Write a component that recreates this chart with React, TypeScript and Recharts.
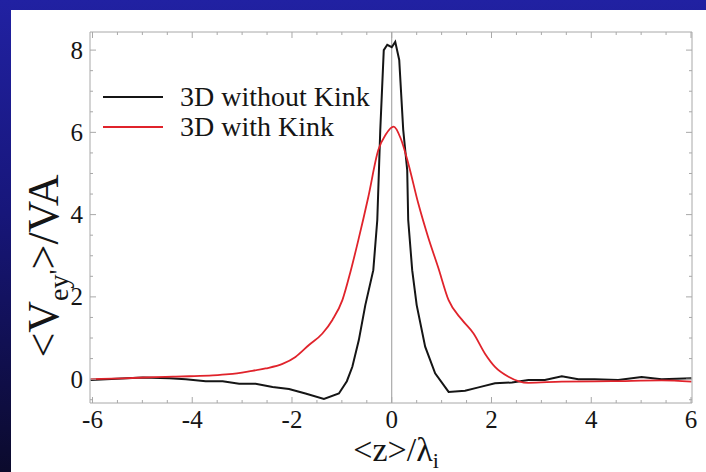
import React from 'react';
import { LineChart, Line, XAxis, YAxis, ReferenceLine, Label } from 'recharts';

// Series: 3D without Kink (black)
const xNoKink = [-6.04, -4.99, -4.46, -4.13, -3.73, -3.39, -3.06, -2.73, -2.39, -2.06, -1.73, -1.36, -1.06, -0.9, -0.79, -0.66, -0.53, -0.37, -0.29, -0.23, -0.16, -0.09, 0.0, 0.07, 0.15, 0.23, 0.31, 0.33, 0.41, 0.5, 0.67, 0.87, 1.14, 1.47, 1.74, 2.07, 2.41, 2.74, 3.07, 3.41, 3.74, 4.07, 4.54, 5.01, 5.41, 6.01];
const yNoKink = [-0.02, 0.04, 0.02, 0.0, -0.05, -0.05, -0.11, -0.11, -0.19, -0.24, -0.35, -0.48, -0.35, -0.05, 0.3, 0.95, 1.8, 2.65, 3.87, 6.06, 8.0, 8.13, 8.07, 8.2, 7.76, 6.06, 5.08, 3.87, 2.65, 1.8, 0.79, 0.14, -0.31, -0.28, -0.2, -0.1, -0.08, -0.02, -0.02, 0.07, 0.0, 0.0, -0.02, 0.05, 0.0, 0.02];

// Series: 3D with Kink (red)
const xKink = [-6.04, -5.39, -4.73, -4.39, -4.06, -3.59, -3.26, -2.86, -2.53, -2.19, -1.93, -1.66, -1.39, -1.19, -0.99, -0.83, -0.67, -0.47, -0.27, -0.12, 0.04, 0.18, 0.33, 0.53, 0.73, 0.93, 1.14, 1.41, 1.64, 1.87, 2.07, 2.34, 2.74, 3.41, 4.41, 5.41, 6.01];
const yKink = [0.0, 0.02, 0.05, 0.06, 0.07, 0.09, 0.12, 0.19, 0.26, 0.37, 0.54, 0.83, 1.11, 1.44, 1.92, 2.6, 3.38, 4.43, 5.57, 5.95, 6.14, 5.85, 5.25, 4.28, 3.45, 2.72, 1.92, 1.44, 1.11, 0.62, 0.3, 0.06, -0.09, -0.06, -0.05, -0.03, -0.06];

const seriesNames = ['3D without Kink', '3D with Kink'];
const seriesColors = ['#151515', '#e0232b'];

const xMajorTicks = [-6, -4, -2, 0, 2, 4, 6];
const yMajorTicks = [0, 2, 4, 6, 8];
const xMinorTicks = [-6, -5.5, -5, -4.5, -4, -3.5, -3, -2.5, -2, -1.5, -1, -0.5, 0, 0.5, 1, 1.5, 2, 2.5, 3, 3.5, 4, 4.5, 5, 5.5, 6];
const yMinorTicks = [-0.5, 0, 0.5, 1, 1.5, 2, 2.5, 3, 3.5, 4, 4.5, 5, 5.5, 6, 6.5, 7, 7.5, 8];

const xDomain = [-6.05, 6.02];
const yDomain = [-0.58, 8.44];

const noKinkData = xNoKink.map((x, i) => ({ x, y: yNoKink[i] }));
const kinkData = xKink.map((x, i) => ({ x, y: yKink[i] }));

const FONT = '"Liberation Serif", "Times New Roman", serif';
const AXIS = '#a8a8a8';
const TEXT = '#151515';

const AxisTick = (props: any) => {
  const { x, y, payload, side, majors } = props;
  const v = payload.value;
  const isMajor = majors.includes(v);
  const len = isMajor ? 6 : 3;
  let line = null;
  let label = null;
  if (side === 'bottom') {
    line = <line x1={x} y1={y} x2={x} y2={y - len} stroke={AXIS} />;
    label = (
      <text x={x} y={y + 25} textAnchor="middle" fontFamily={FONT} fontSize={25} fill={TEXT}>
        {v}
      </text>
    );
  } else if (side === 'top') {
    line = <line x1={x} y1={y} x2={x} y2={y + len} stroke={AXIS} />;
  } else if (side === 'left') {
    line = <line x1={x} y1={y} x2={x + len} y2={y} stroke={AXIS} />;
    label = (
      <text x={x - 7} y={y + 8.5} textAnchor="end" fontFamily={FONT} fontSize={25} fill={TEXT}>
        {v}
      </text>
    );
  } else {
    line = <line x1={x} y1={y} x2={x - len} y2={y} stroke={AXIS} />;
  }
  return (
    <g>
      {line}
      {isMajor ? label : null}
    </g>
  );
};

const YLabel = () => (
  <text
    x={58}
    y={266}
    transform="rotate(-90, 58, 266)"
    textAnchor="middle"
    fontFamily={FONT}
    fontSize={44}
    fill={TEXT}
  >
    &lt;V<tspan fontSize={28} dy={10}>ey'</tspan>
    <tspan dy={-10}>&gt;/VA</tspan>
  </text>
);

const XLabel = () => (
  <text x={396} y={461} textAnchor="middle" fontFamily={FONT} fontSize={34} fill={TEXT}>
    &lt;z&gt;/λ<tspan fontSize={22} dy={7}>i</tspan>
  </text>
);

const LegendBox = () => (
  <div style={{ position: 'absolute', left: 103, top: 82, fontFamily: FONT, fontSize: 28, color: TEXT }}>
    {seriesNames.map((n, i) => (
      <div key={n} style={{ display: 'flex', alignItems: 'center', height: 30 }}>
        <svg width={60} height={4} style={{ marginRight: 17 }}>
          <line x1={0} y1={2} x2={60} y2={2} stroke={seriesColors[i]} strokeWidth={1.8} />
        </svg>
        <span style={{ lineHeight: '30px' }}>{n}</span>
      </div>
    ))}
  </div>
);

export default function App() {
  const common = { allowDataOverflow: true, interval: 0 as const, tickLine: false, tickSize: 0, tickMargin: 0 };
  return (
    <div
      style={{
        position: 'absolute',
        left: 0,
        top: 0,
        width: 706,
        height: 472,
        background: 'linear-gradient(to bottom, #2121a2 0%, #17167a 45%, #0b0a2c 100%)',
        overflow: 'hidden',
      }}
    >
      <div style={{ position: 'absolute', left: 11, top: 10, width: 695, height: 462, background: '#ffffff' }} />
      <div style={{ position: 'absolute', left: 0, top: 0 }}>
        <LineChart width={706} height={472} margin={{ top: 31, right: 13, bottom: 39, left: 50 }}>
          <XAxis
            xAxisId="main"
            type="number"
            dataKey="x"
            domain={xDomain}
            orientation="bottom"
            height={30}
            ticks={xMinorTicks}
            axisLine={{ stroke: AXIS }}
            tick={<AxisTick side="bottom" majors={xMajorTicks} />}
            {...common}
          >
            <Label content={<XLabel />} />
          </XAxis>
          <XAxis
            xAxisId="top"
            type="number"
            dataKey="x"
            domain={xDomain}
            orientation="top"
            height={1}
            ticks={xMinorTicks}
            axisLine={{ stroke: AXIS }}
            tick={<AxisTick side="top" majors={xMajorTicks} />}
            {...common}
          />
          <YAxis
            yAxisId="main"
            type="number"
            dataKey="y"
            domain={yDomain}
            orientation="left"
            width={40}
            ticks={yMinorTicks}
            axisLine={{ stroke: AXIS }}
            tick={<AxisTick side="left" majors={yMajorTicks} />}
            {...common}
          >
            <Label content={<YLabel />} />
          </YAxis>
          <YAxis
            yAxisId="right"
            type="number"
            dataKey="y"
            domain={yDomain}
            orientation="right"
            width={1}
            ticks={yMinorTicks}
            axisLine={{ stroke: AXIS }}
            tick={<AxisTick side="right" majors={yMajorTicks} />}
            {...common}
          />
          <ReferenceLine xAxisId="main" yAxisId="main" x={0} stroke="#9a9a9a" strokeWidth={1} />
          <Line
            xAxisId="main"
            yAxisId="main"
            data={noKinkData}
            dataKey="y"
            name={seriesNames[0]}
            stroke={seriesColors[0]}
            strokeWidth={2}
            dot={false}
            type="linear"
            isAnimationActive={false}
          />
          <Line
            xAxisId="main"
            yAxisId="main"
            data={kinkData}
            dataKey="y"
            name={seriesNames[1]}
            stroke={seriesColors[1]}
            strokeWidth={1.8}
            dot={false}
            type="monotone"
            isAnimationActive={false}
          />
        </LineChart>
      </div>
      <LegendBox />
    </div>
  );
}
